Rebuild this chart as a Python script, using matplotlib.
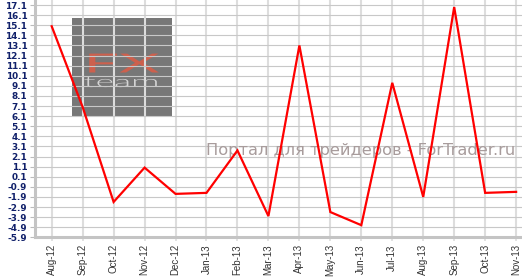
import matplotlib
matplotlib.use("Agg")
import matplotlib.pyplot as plt
import numpy as np
from matplotlib.patches import Rectangle
from matplotlib.transforms import Affine2D
from matplotlib.patheffects import AbstractPathEffect

months = ["Aug-12", "Sep-12", "Oct-12", "Nov-12", "Dec-12", "Jan-13", "Feb-13", "Mar-13",
          "Apr-13", "May-13", "Jun-13", "Jul-13", "Aug-13", "Sep-13", "Oct-13", "Nov-13"]
values = [15.0, 7.0, -2.4, 1.0, -1.6, -1.5, 2.7, -3.8,
          13.1, -3.4, -4.7, 9.4, -1.9, 16.9, -1.5, -1.4]
yticks = [round(-5.9 + i, 1) for i in range(24)]
ytick_labels = ["%.1f" % v for v in yticks]

W, H, DPI = 522, 278, 100
fig = plt.figure(figsize=(W / DPI, H / DPI), dpi=DPI)
fig.patch.set_facecolor("white")
ax = fig.add_axes([35 / W, 40.7 / H, (W - 35) / W, 237.3 / H])

x = np.arange(len(months))
ax.plot(x, values, color="#ff0000", lw=1.6, zorder=5, solid_joinstyle="miter")

ax.set_xlim(-0.539, 15.19)
ax.set_ylim(-5.9, 17.6)
ax.set_yticks(yticks)
ax.set_yticklabels(ytick_labels)
ax.set_xticks(x)
ax.set_xticklabels(months, rotation=90)

ax.set_axisbelow(True)
ax.yaxis.grid(True, color="#c8c8c8", lw=0.8)
ax.xaxis.grid(True, color="#dddddd", lw=1.5)

for s in ["top", "right"]:
    ax.spines[s].set_visible(False)
for s in ["left", "bottom"]:
    ax.spines[s].set_color("#c4c4c4")
    ax.spines[s].set_linewidth(2.2)

ax.tick_params(axis="y", length=3.5, width=0.8, color="#bbbbbb", pad=2,
               labelsize=6.4, labelcolor="#10206a")
ax.tick_params(axis="x", length=3, width=1.2, color="#dddddd", pad=2,
               labelsize=7, labelcolor="#333333")
for lab in ax.get_yticklabels():
    lab.set_fontweight("bold")
    lab.set_family("DejaVu Sans")
for lab in ax.get_xticklabels():
    lab.set_family("Liberation Sans")


def pix_tr():
    return Affine2D().scale(1.0 / DPI) + fig.dpi_scale_trans


# watermark block (pixel coords from top-left)
rect = Rectangle((72, H - 117), 100, 99, transform=pix_tr(), facecolor="#777777",
                 edgecolor="none", zorder=0.2)
ax.add_artist(rect)


class StretchX(AbstractPathEffect):
    def __init__(self, sx, cx):
        super().__init__()
        self.sx = sx
        self.cx = cx

    def draw_path(self, renderer, gc, tpath, affine, rgbFace=None):
        a = affine + Affine2D().translate(-self.cx, 0).scale(self.sx, 1).translate(self.cx, 0)
        renderer.draw_path(gc, tpath, a, rgbFace)


logo_fx = ax.text(121.5, H - 72.5, "FX", transform=pix_tr(), ha="center", va="baseline",
                  fontsize=19, family="Lato", fontweight="normal", color="#cd604d", zorder=0.3)
logo_team = ax.text(121.5, H - 87, "team", transform=pix_tr(), ha="center", va="baseline",
                    fontsize=11.5, family="Lato", fontweight=300, color="#d4d4d4", zorder=0.3)

ax.text(515, H - 155, "Портал для трейдеров - ForTrader.ru", transform=pix_tr(),
        ha="right", va="baseline", fontsize=11.7, color="#a89c9c",
        family="DejaVu Sans", zorder=3, clip_on=False)

fig.canvas.draw()
r = fig.canvas.get_renderer()
scale = fig.dpi / DPI
for t, target in [(logo_fx, 76), (logo_team, 76)]:
    bb = t.get_window_extent(r)
    cx = 121.5 * scale
    t.set_path_effects([StretchX(target * scale / bb.width, cx)])

fig.savefig("out.png", dpi=DPI)
